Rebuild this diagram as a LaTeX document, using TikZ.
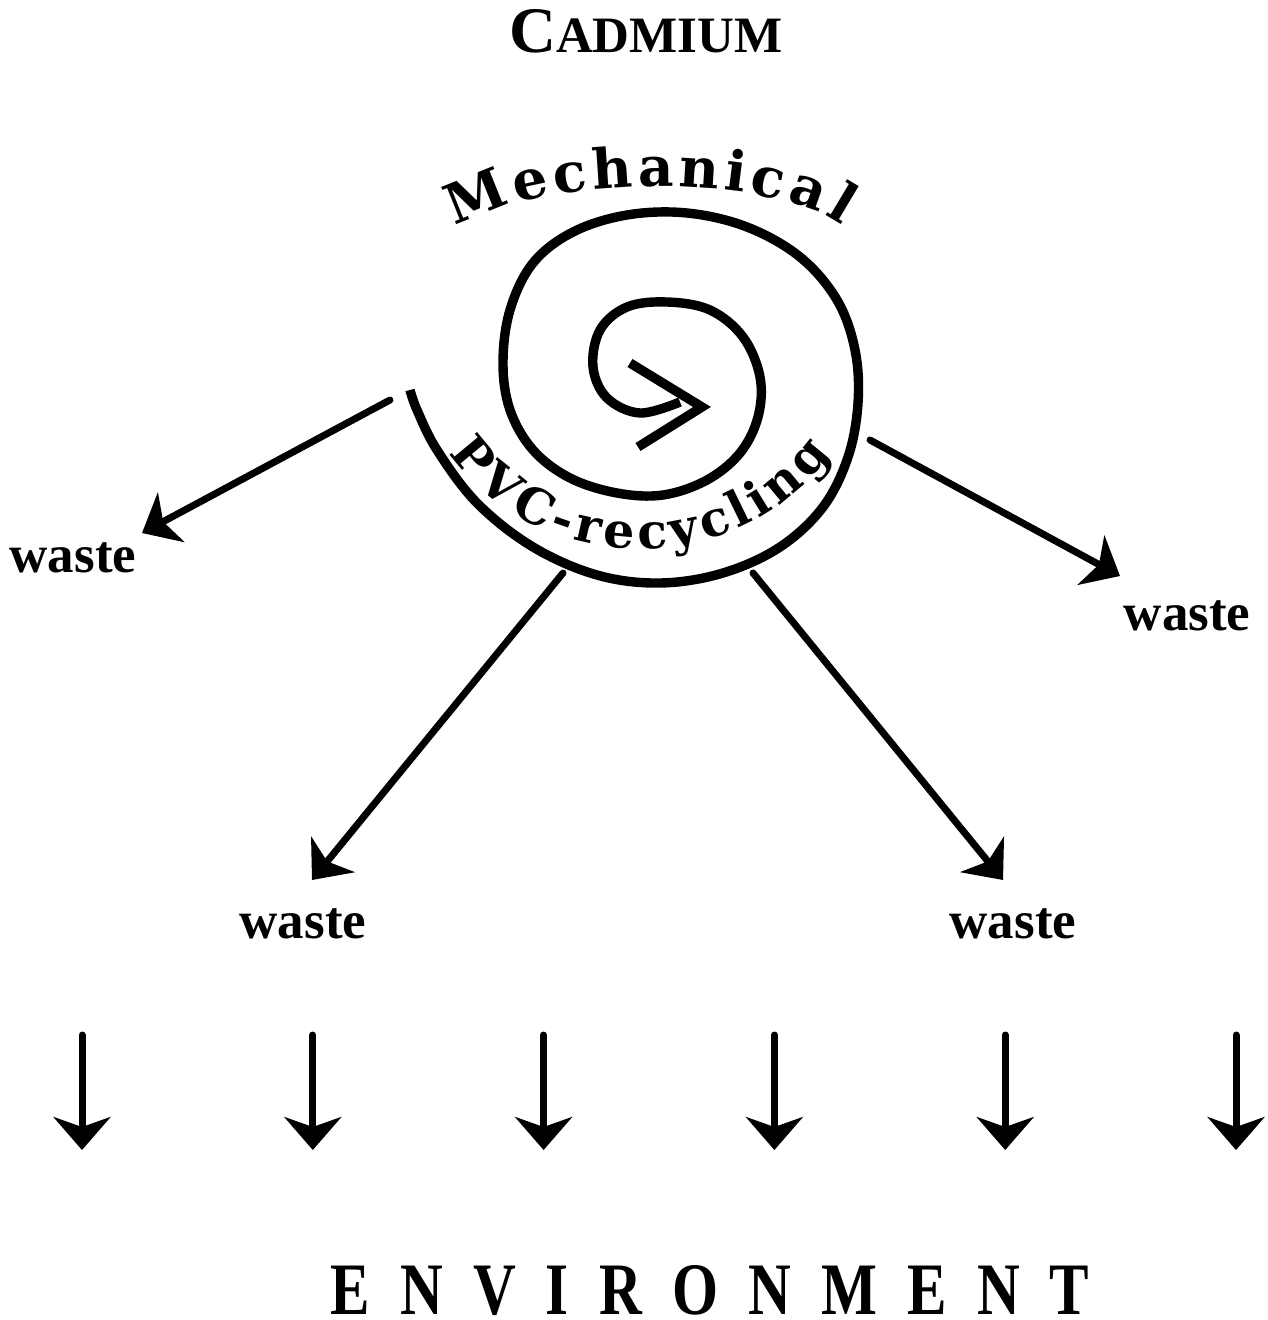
\documentclass[tikz,border=0pt]{standalone}
\usepackage{fontspec}
\setmainfont{Liberation Serif}
\newfontfamily\arcserif{DejaVu Serif}
\usetikzlibrary{arrows.meta,decorations.text}
\newcommand\wastefont{\fontsize{26.5}{28}\selectfont\bfseries}
\newcommand\cadbig{\fontsize{32.5}{34}\selectfont\bfseries}
\newcommand\cadsmall{\fontsize{25.5}{26}\selectfont\bfseries}
\newcommand\envfont{\fontsize{37}{38}\selectfont\bfseries}
\newcommand\mechfont{\arcserif\fontsize{27.5}{29}\selectfont\bfseries}
\newcommand\pvcfont{\arcserif\fontsize{24.5}{26}\selectfont\bfseries}
\newcommand\envgap{\hspace{0.51em}}
\begin{document}
\begin{tikzpicture}[
  x=0.5pt, y=-0.5pt,
  spiral/.style={draw, line width=4.7pt, line join=round},
  wastearrow/.style={draw, line width=3.5pt, line cap=round,
    -{Stealth[length=16.5pt, width=28pt, inset=4.5pt]}},
  downarrow/.style={draw, line width=3.5pt, line cap=round,
    -{Stealth[length=16.5pt, width=28.5pt, inset=5pt]}},
  wastelabel/.style={anchor=base, inner sep=0pt, font=\wastefont}
]
\useasboundingbox (0,0) rectangle (1267,1320);

% titles
\node[anchor=base, inner sep=0pt] (cadmium) at (646,53) {\cadbig C\cadsmall ADMIUM};
\node[anchor=base, inner sep=0pt] (environment) at (710,1314)
  {\scalebox{0.8}[1]{\envfont E\envgap N\envgap V\envgap I\envgap R\envgap O\envgap N\envgap M\envgap E\envgap N\envgap T}};

% recycling spiral
\draw[spiral] plot[smooth, tension=0.6] coordinates {
  (680,402) (640,413) (607,398) (593,367) (600,330) (627,307) (667,302)
  (710,310) (743,337) (760,377) (758,417) (740,453) (707,480) (663,495)
  (617,493) (570,478) (533,450) (510,410) (503,363) (510,310) (533,263)
  (573,232) (627,215) (687,213) (747,227) (800,257) (837,300) (855,350)
  (858,403) (848,457) (823,507) (780,547) (723,573) (660,583) (597,575)
  (533,547) (477,503) (437,450) (417,410) (410,390)};
\draw[spiral, line join=miter] (630,363) -- (702,407) -- (638,447);

% arched texts
\path[decorate, decoration={text along path, text align=fit to path,
  text={|\mechfont|Mechanical}}]
  (456,228) .. controls (529,178) and (765,169) .. (842,226);
\path[decorate, decoration={text along path, text align=fit to path,
  text={|\pvcfont|PVC-recycling}}]
  (449.2,453.1) arc[start angle=148, end angle=32, x radius=225, y radius=204];

% waste labels
\node[wastelabel] (wl) at (73,572) {waste};
\node[wastelabel] (wr) at (1187,630) {waste};
\node[wastelabel] (wbl) at (303,938) {waste};
\node[wastelabel] (wbr) at (1013,938) {waste};

\coordinate (sl) at (390,400);
\coordinate (sr) at (870,440);
\coordinate (sbl) at (563,573);
\coordinate (sbr) at (753,573);
\coordinate (tl) at (142,533);
\coordinate (tr) at (1120,576);
\coordinate (tbl) at (312,880);
\coordinate (tbr) at (1003,880);

\draw[wastearrow] (sl) -- (tl);
\draw[wastearrow] (sr) -- (tr);
\draw[wastearrow] (sbl) -- (tbl);
\draw[wastearrow] (sbr) -- (tbr);

% flows into the environment
\foreach \i in {0,...,5} {
  \coordinate (dtop\i) at ({82+230.8*\i},1035);
  \coordinate (dtip\i) at ({82+230.8*\i},1150);
  \draw[downarrow] (dtop\i) -- (dtip\i);
}
\end{tikzpicture}
\end{document}
